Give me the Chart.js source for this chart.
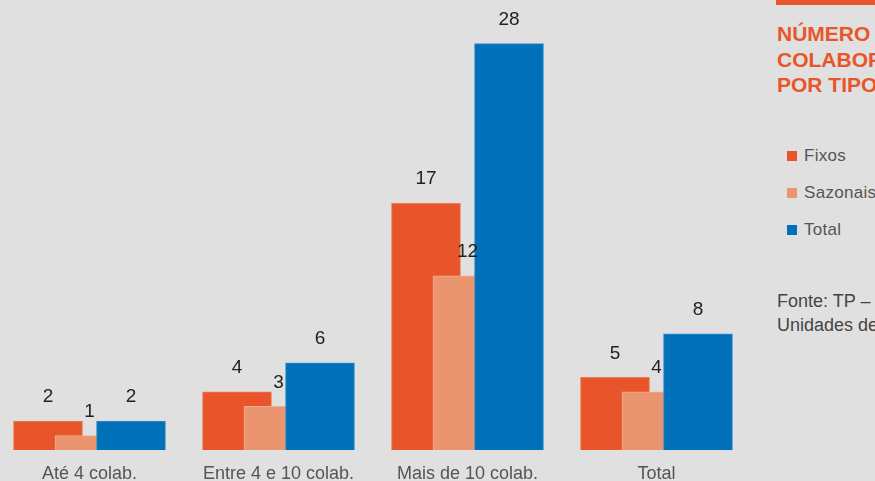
<!DOCTYPE html>
<html lang="pt">
<head>
<meta charset="utf-8">
<script src="https://cdn.jsdelivr.net/npm/chart.js@4"></script>
<style>
  html, body { margin: 0; padding: 0; }
  body {
    width: 875px; height: 481px; overflow: hidden; position: relative;
    background: #e0e0e0; font-family: "Liberation Sans", Arial, sans-serif;
  }
  #chart { position: absolute; left: -5px; top: 0; }
  .side { position: absolute; left: 777px; white-space: nowrap; }
  .bar-top { position: absolute; left: 776px; top: 0; width: 99px; height: 5px; background: #e8552a; }
  .title { top: 21px; font-weight: bold; font-size: 21px; line-height: 25.5px; color: #e8552a; }
  .legend { top: 144px; font-size: 17px; letter-spacing: 0.3px; color: #555; }
  .legend div { position: relative; height: 37px; line-height: 24px; padding-left: 27px; }
  .legend span { position: absolute; left: 10px; top: 7px; width: 10px; height: 10px; }
  .source { top: 290px; font-size: 18px; line-height: 23.5px; color: #444; }
</style>
</head>
<body>
<!-- canvas runs a little past the bottom edge so the category labels sit low -->
<canvas id="chart" width="756" height="498"></canvas>
<div class="bar-top"></div>
<div class="side title">NÚMERO DE<br>COLABORADORES<br>POR TIPO</div>
<div class="side legend" id="legend"></div>
<div class="side source">Fonte: TP – Tabulação própria<br>Unidades de produção</div>
<script>
// categorias e valores
const categories = ['Até 4 colab.', 'Entre 4 e 10 colab.', 'Mais de 10 colab.', 'Total'];
const fixos = [2, 4, 17, 5];
const sazonais = [1, 3, 12, 4];
const total = [2, 6, 28, 8];

const seriesNames = ['Fixos', 'Sazonais', 'Total'];
const colors = ['#e8552a', '#eb9570', '#0070b8'];
const borders = ['#ee7a55', '#f0ae90', '#3b8fcc'];

// bars overlap inside each group: shift left / centre / right
const shift = 0.2196;

function points(values, dx) {
  return values.map((v, i) => ({ x: i + dx, y: v }));
}

const legendEl = document.getElementById('legend');
seriesNames.forEach((name, i) => {
  const row = document.createElement('div');
  row.innerHTML = '<span style="background:' + colors[i] + '"></span>' + name;
  legendEl.appendChild(row);
});

const valueLabels = {
  id: 'valueLabels',
  afterDatasetsDraw(chart) {
    const ctx = chart.ctx;
    ctx.save();
    ctx.font = '19px "Liberation Sans", Arial, sans-serif';
    ctx.fillStyle = '#222';
    ctx.textAlign = 'center';
    ctx.textBaseline = 'middle';
    chart.data.datasets.forEach((ds, di) => {
      chart.getDatasetMeta(di).data.forEach((bar, i) => {
        ctx.fillText(ds.data[i].y, bar.x, bar.y - 24);
      });
    });
    ctx.restore();
  }
};

const mk = (label, values, dx, idx) => ({
  label,
  data: points(values, dx),
  xAxisID: 'xb',
  backgroundColor: colors[idx],
  borderColor: borders[idx],
  borderWidth: 1,
  grouped: false,
  barThickness: 69,
  order: 3 - idx
});

new Chart(document.getElementById('chart'), {
  type: 'bar',
  data: {
    labels: categories,
    datasets: [
      mk('Fixos', fixos, -shift, 0),
      mk('Sazonais', sazonais, 0, 1),
      mk('Total', total, shift, 2)
    ]
  },
  options: {
    responsive: false,
    animation: false,
    layout: { padding: 0 },
    plugins: { legend: { display: false }, tooltip: { enabled: false } },
    scales: {
      x: {
        type: 'category',
        offset: true,
        grid: { display: false, drawTicks: false },
        border: { display: false },
        ticks: {
          autoSkip: false,
          maxRotation: 0,
          padding: 15,
          color: '#555',
          font: { family: '"Liberation Sans", Arial, sans-serif', size: 18, lineHeight: 1 }
        }
      },
      xb: { type: 'linear', display: false, offset: false, min: -0.5, max: 3.5 },
      y: { display: false, min: 0, max: 31 }
    }
  },
  plugins: [valueLabels]
});
</script>
</body>
</html>
